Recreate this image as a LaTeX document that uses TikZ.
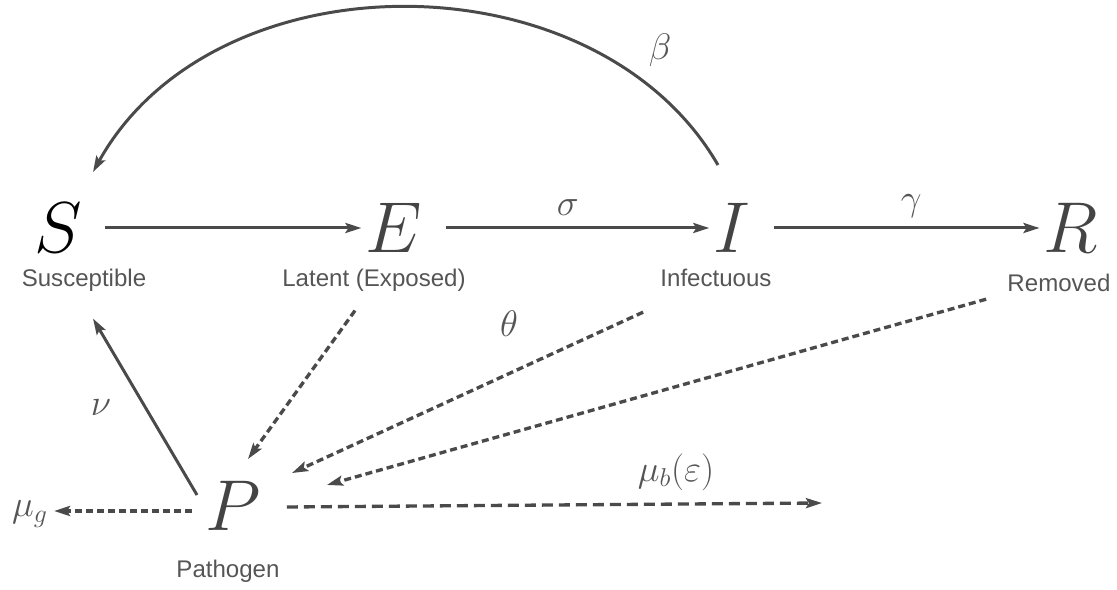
\RequirePackage{fix-cm}
\documentclass[tikz,border=0pt]{standalone}
\usepackage{fontspec}
\setsansfont{Liberation Sans}
\usetikzlibrary{arrows.meta, positioning, calc}

\definecolor{linegray}{HTML}{4A4A4A}
\definecolor{textgray}{HTML}{555555}
\definecolor{lettergray}{HTML}{444444}

\begin{document}
\begin{tikzpicture}[
    x=0.02cm, y=-0.02cm,
    >={Stealth[length=0.32cm, width=0.2cm, inset=0.06cm]},
    % compartimentos, legendas e taxas
    comp/.style={inner sep=0.08cm, text=lettergray, font=\fontsize{41}{41}\selectfont},
    desc/.style={inner sep=0pt, text=textgray, font=\sffamily\fontsize{13.7}{16}\selectfont},
    rate/.style={text=textgray, font=\fontsize{21}{21}\selectfont},
    flow/.style={->, line width=1.7pt, draw=linegray},
    shed/.style={->, line width=1.9pt, draw=linegray, dash pattern=on 0.14cm off 0.08cm},
    decayline/.style={->, line width=1.9pt, draw=linegray, dash pattern=on 0.22cm off 0.12cm}
]
    \useasboundingbox (0,0) rectangle (1117,590);

    % ================= COMPARTIMENTOS =================
    \node[comp, text=black] (S) at (58,228) {$S$};
    \node[comp] (E) at (394,228) {$E$};
    \node[comp] (I) at (732,228) {$I$};
    \node[comp] (R) at (1071,228) {$R$};
    \node[comp] (P) at (233,506) {$P$};

    \node[desc] (Slab) at (84,280) {Susceptible};
    \node[desc] (Elab) at (374,280) {Latent (Exposed)};
    \node[desc] (Ilab) at (716,278) {Infectuous};
    \node[desc] (Rlab) at (1059,283) {Removed};
    \node[desc] (Plab) at (228,571) {Pathogen};

    % ================= TAXAS =================
    \node[rate] (beta) at (660,50) {$\beta$};
    \node[rate] (theta) at (509,324) {$\theta$};
    \node[rate] (nu) at (101,408) {$\nu$};
    \node[rate] (mub) at (676,472) {$\mu_b(\varepsilon)$};
    \node[rate] (mug) at (30,514) {$\mu_g$};
    \coordinate (sink) at (822,503);

    % ================= TRANSICOES =================
    \draw[flow, shorten <=0.38cm] (S) -- (E);
    \draw[flow, shorten <=0.38cm] (E) -- node[rate, above=0.1cm] (sigma) {$\sigma$} (I);
    \draw[flow, shorten <=0.38cm] (I) -- node[rate, above=0.06cm, pos=0.55] (gamma) {$\gamma$} (R);

    % contagio (arco de I para S)
    \draw[flow] ($(I.north)+(-14,-34)$) .. controls (596,-46) and (214,-46) .. ($(S.north)+(35,-27)$);

    % patogeno -> suscetiveis
    \draw[flow] ($(P.west)+(-4,-11)$) -- ($(Slab.south)+(9,27)$);

    % excrecao para o ambiente
    \draw[shed] ($(Elab.south)+(-19,19)$) -- ($(P.north)+(15,-18)$);
    \draw[shed] ($(Ilab.south west)+(-17,25)$) -- ($(P.north east)+(27,-4)$);
    \draw[shed] ($(Rlab.south west)+(-21,7)$) -- ($(P.east)+(62,-21)$);

    % decaimento do patogeno
    \draw[shed] ($(P.west)+(-9,5)$) -- ($(P.west -| mug.east)+(0,5)$);
    \draw[decayline] ($(P.east)+(22,1)$) -- (sink);

\end{tikzpicture}
\end{document}
